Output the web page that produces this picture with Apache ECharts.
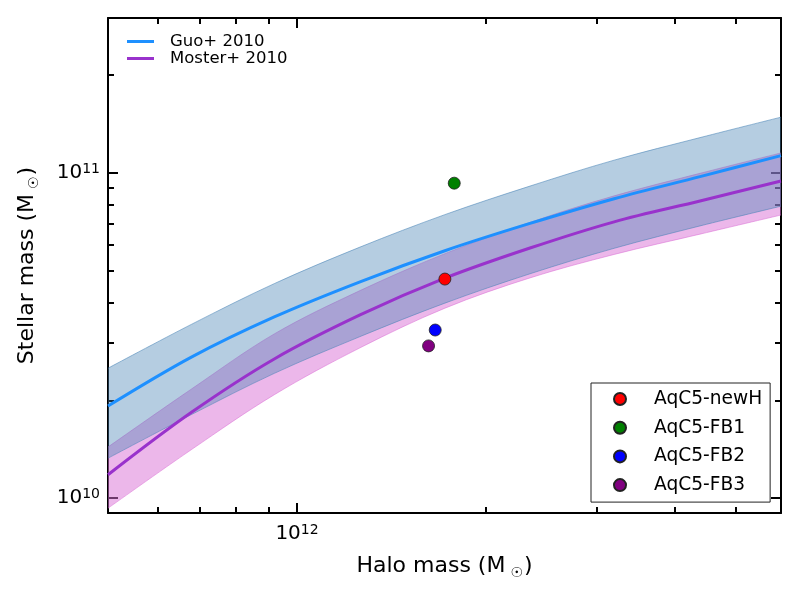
<!DOCTYPE html>
<html>
<head>
    <meta charset="utf-8">
    <title>Stellar mass vs halo mass</title>
    <script src="https://cdn.jsdelivr.net/npm/echarts@6/dist/echarts.min.js"></script>
    <style>
        html, body { margin: 0; padding: 0; background: #fff; }
        #main { width: 800px; height: 600px; }
    </style>
</head>
<body>
<div id="main"></div>
<script>
    var haloMass = [5.0e11, 6.8e11, 9.2e11, 1.26e12, 1.72e12, 2.35e12, 3.2e12, 4.4e12, 5.9e12];
    // Guo+ 2010 (line and band)
    var guoMid  = [1.92e10, 2.72e10, 3.61e10, 4.63e10, 5.77e10, 7.00e10, 8.34e10, 9.77e10, 1.132e11];
    var guoHigh = [2.51e10, 3.43e10, 4.57e10, 5.92e10, 7.45e10, 9.12e10, 1.096e11, 1.288e11, 1.486e11];
    var guoLow  = [1.327e10, 1.81e10, 2.42e10, 3.14e10, 3.98e10, 4.90e10, 5.87e10, 6.89e10, 7.91e10];
    // Moster+ 2010 (line and band)
    var mosterMid  = [1.18e10, 1.84e10, 2.68e10, 3.66e10, 4.75e10, 5.88e10, 7.08e10, 8.22e10, 9.45e10];
    var mosterHigh = [1.436e10, 2.17e10, 3.20e10, 4.35e10, 5.65e10, 7.05e10, 8.51e10, 1.0e11, 1.153e11];
    var mosterLow  = [9.31e9, 1.413e10, 2.08e10, 2.90e10, 3.84e10, 4.76e10, 5.62e10, 6.50e10, 7.43e10];
    // simulated galaxies
    var simNames   = ['AqC5-newH', 'AqC5-FB1', 'AqC5-FB2', 'AqC5-FB3'];
    var simHalo    = [1.72e12, 1.78e12, 1.66e12, 1.62e12];
    var simStellar = [4.72e10, 9.31e10, 3.29e10, 2.94e10];
    var simColors  = ['#ff0000', '#008000', '#0000ff', '#800080'];
    // axis ranges and ticks
    var xRange = [5e11, 5.9e12];
    var yRange = [9e9, 3e11];
    var xMajor = [1e12];
    var xMinor = [6e11, 7e11, 8e11, 9e11, 2e12, 3e12, 4e12, 5e12];
    var yMajor = [1e10, 1e11];
    var yMinor = [2e10, 3e10, 4e10, 5e10, 6e10, 7e10, 8e10, 9e10, 2e11];

    var lg = Math.log10;
    var FONT = 'DejaVu Sans';

    function logs(arr) { return arr.map(function (v) { return lg(v); }); }

    var powRich = {
        b: { fontSize: 20, lineHeight: 22, color: '#000', fontFamily: FONT },
        s: { fontSize: 14, lineHeight: 12, verticalAlign: 'top', color: '#000', fontFamily: FONT }
    };
    function powLabel(v) { return '{b|10}{s|' + Math.round(v) + '}'; }

    // one axis = one side + one tick length (major / minor drawn by separate axes)
    function makeAxis(range, pos, ticks, len, withLine, withLabel, labelMargin) {
        return {
            type: 'value',
            position: pos,
            min: lg(range[0]),
            max: lg(range[1]),
            axisLine: { show: withLine, onZero: false, lineStyle: { color: '#000', width: 2 } },
            axisTick: { show: true, inside: true, length: len, customValues: logs(ticks),
                        lineStyle: { color: '#000', width: 2 } },
            axisLabel: withLabel ? { show: true, customValues: logs(ticks), formatter: powLabel,
                                     rich: powRich, margin: labelMargin } : { show: false },
            splitLine: { show: false }
        };
    }

    var xAxes = [
        makeAxis(xRange, 'bottom', xMajor, 10, true, true, 10),
        makeAxis(xRange, 'bottom', xMinor, 6, false, false),
        makeAxis(xRange, 'top', xMajor, 10, true, false),
        makeAxis(xRange, 'top', xMinor, 6, false, false)
    ];
    var yAxes = [
        makeAxis(yRange, 'left', yMajor, 10, true, true, 8),
        makeAxis(yRange, 'left', yMinor, 6, false, false),
        makeAxis(yRange, 'right', yMajor, 10, true, false),
        makeAxis(yRange, 'right', yMinor, 6, false, false)
    ];
    var nameRich = {
        n: { fontSize: 22, lineHeight: 28, color: '#000', fontFamily: FONT },
        o: { fontSize: 14, lineHeight: 10, verticalAlign: 'bottom', color: '#000', fontFamily: FONT, padding: [0, 1, 0, 5] }
    };
    xAxes[0].name = '{n|Halo mass (M}{o|☉}{n|)}';
    xAxes[0].nameLocation = 'middle';
    xAxes[0].nameGap = 39;
    xAxes[0].nameTextStyle = { rich: nameRich };
    yAxes[0].name = '{n|Stellar mass (M}{o|☉}{n|)}';
    yAxes[0].nameLocation = 'middle';
    yAxes[0].nameRotate = 90;
    yAxes[0].nameGap = 67;
    yAxes[0].nameTextStyle = { rich: nameRich };

    // band data: columns are [y, x] so the stack runs along y
    function bandBase(low) {
        return haloMass.map(function (m, i) { return [lg(low[i]), lg(m)]; });
    }
    function bandWidth(low, high) {
        return haloMass.map(function (m, i) { return [lg(high[i]) - lg(low[i]), lg(m)]; });
    }
    function curve(ys) {
        return haloMass.map(function (m, i) { return [lg(m), lg(ys[i])]; });
    }

    function band(name, stack, data, color, fill, z) {
        var s = {
            name: name, type: 'line', stack: stack, encode: { x: 1, y: 0 },
            data: data, smooth: 0.35, symbol: 'none', silent: true, z: z,
            lineStyle: { color: color, width: 1, opacity: 0.55 }
        };
        if (fill) s.areaStyle = { color: color, opacity: fill };
        return s;
    }

    var series = [
        band('mosterLowEdge', 'moster', bandBase(mosterLow), '#da70d6', 0, 1),
        band('mosterBand', 'moster', bandWidth(mosterLow, mosterHigh), '#da70d6', 0.5, 1),
        band('guoLowEdge', 'guo', bandBase(guoLow), '#4682b4', 0, 2),
        band('guoBand', 'guo', bandWidth(guoLow, guoHigh), '#4682b4', 0.4, 2),
        {
            name: 'Guo+ 2010', type: 'line', data: curve(guoMid), smooth: 0.35,
            symbol: 'none', color: '#1e90ff', lineStyle: { color: '#1e90ff', width: 3 }, z: 3
        },
        {
            name: 'Moster+ 2010', type: 'line', data: curve(mosterMid), smooth: 0.35,
            symbol: 'none', color: '#9932cc', lineStyle: { color: '#9932cc', width: 3 }, z: 3
        }
    ];
    simNames.forEach(function (nm, i) {
        series.push({
            name: nm, type: 'scatter', symbol: 'circle', symbolSize: 12, z: 4,
            data: [[lg(simHalo[i]), lg(simStellar[i])]],
            itemStyle: { color: simColors[i], borderColor: '#222', borderWidth: 0.8, opacity: 1 }
        });
    });

    var option = {
        animation: false,
        backgroundColor: '#fff',
        textStyle: { fontFamily: FONT },
        grid: { left: 108, right: 19, top: 18, bottom: 87, containLabel: false },
        xAxis: xAxes,
        yAxis: yAxes,
        legend: [
            {
                data: ['Guo+ 2010', 'Moster+ 2010'],
                orient: 'vertical', left: 127, top: 33, padding: 0, itemGap: 0,
                icon: 'rect', itemWidth: 27, itemHeight: 3,
                textStyle: { fontSize: 16.5, lineHeight: 16, color: '#000', fontFamily: FONT, padding: [0, 0, 0, 11] },
                selectedMode: false
            },
            {
                data: simNames,
                orient: 'vertical', left: 591, top: 383, padding: [6, 8, 7, 22], itemGap: 8.7,
                icon: 'circle', itemWidth: 12, itemHeight: 12,
                backgroundColor: '#fff', borderColor: '#222', borderWidth: 1,
                textStyle: { fontSize: 18.6, lineHeight: 20, color: '#000', fontFamily: FONT, padding: [0, 0, 0, 23] },
                selectedMode: false, z: 10
            }
        ],
        series: series
    };

    var myChart = echarts.init(document.getElementById('main'));
    myChart.setOption(option);
</script>
</body>
</html>
